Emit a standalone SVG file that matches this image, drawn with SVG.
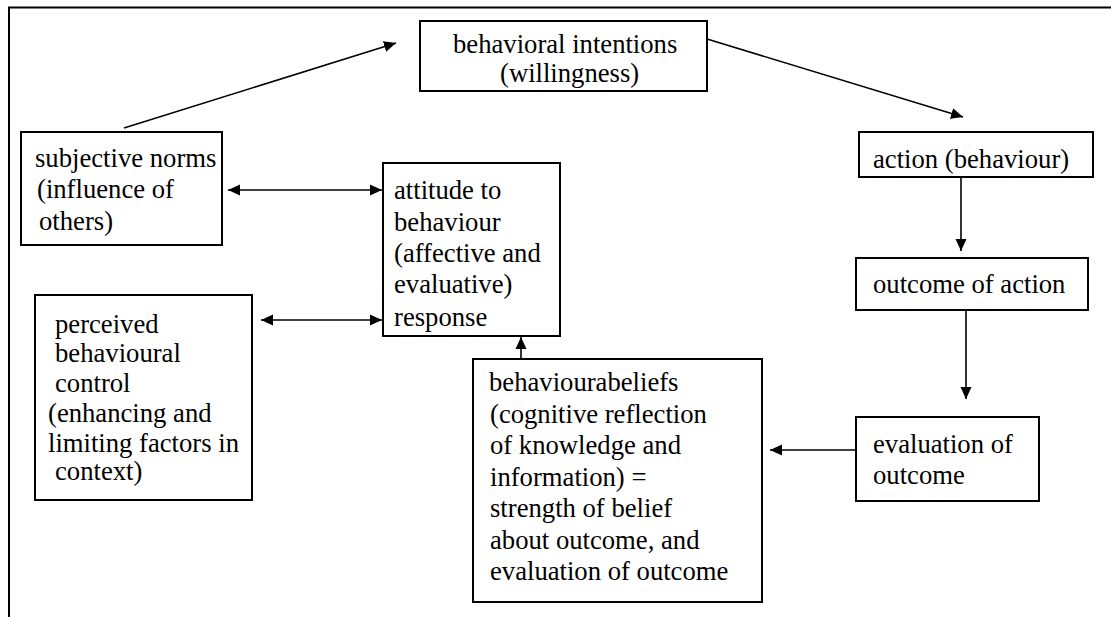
<svg xmlns="http://www.w3.org/2000/svg" width="1111" height="617" viewBox="0 0 1111 617">
  <style>
    .box { fill: #ffffff; stroke: #000000; stroke-width: 2; }
    .frame { fill: none; stroke: #000000; stroke-width: 2; }
    text { font-family: 'Liberation Serif', 'Times New Roman', Times, 'DejaVu Serif', serif; font-size: 26.67px; fill: #000000; }
    .conn { fill: none; stroke: #000000; stroke-width: 1.6; }
    .one { marker-end: url(#head); }
    .two { marker-start: url(#head); marker-end: url(#head); }
  </style>
  <defs>
    <marker id="head" markerUnits="userSpaceOnUse" markerWidth="14" markerHeight="14" viewBox="0 0 14 14" refX="12" refY="7" orient="auto-start-reverse">
      <path d="M0,1.5 L12,7 L0,12.5 Z" fill="#000000"/>
    </marker>
  </defs>

  <rect width="1111" height="617" fill="#ffffff"/>

  <!-- open page frame: top and left edges only -->
  <path class="frame" d="M9,617 L9,7.5 L1111,7.5"/>

  <g id="connectors">
    <line class="conn one" x1="124" y1="128" x2="396" y2="43"/>
    <line class="conn one" x1="707" y1="39" x2="963" y2="117"/>
    <line class="conn two" x1="228" y1="190" x2="382" y2="190"/>
    <line class="conn two" x1="261" y1="320" x2="382" y2="320"/>
    <line class="conn one" x1="961" y1="177" x2="961" y2="251"/>
    <line class="conn one" x1="966" y1="310" x2="966" y2="399"/>
    <line class="conn one" x1="856" y1="450" x2="770" y2="450"/>
    <line class="conn one" x1="521" y1="359" x2="521" y2="337"/>
  </g>

  <g id="intentions">
    <rect class="box" x="420" y="21" width="287" height="70"/>
    <text x="453" y="53">behavioral intentions</text>
    <text x="500" y="82">(willingness)</text>
  </g>

  <g id="subjective-norms">
    <rect class="box" x="21" y="132" width="201" height="113"/>
    <text x="35" y="167">subjective norms</text>
    <text x="37" y="198">(influence of</text>
    <text x="39" y="230">others)</text>
  </g>

  <g id="attitude">
    <rect class="box" x="383" y="163" width="177" height="173"/>
    <text x="394" y="199">attitude to</text>
    <text x="394" y="231">behaviour</text>
    <text x="394" y="262">(affective and</text>
    <text x="394" y="293">evaluative)</text>
    <text x="394" y="326">response</text>
  </g>

  <g id="perceived-control">
    <rect class="box" x="35" y="295" width="217" height="205"/>
    <text x="55" y="333">perceived</text>
    <text x="55" y="362">behavioural</text>
    <text x="55" y="392">control</text>
    <text x="48" y="422">(enhancing and</text>
    <text x="48" y="452">limiting factors in</text>
    <text x="55" y="480">context)</text>
  </g>

  <g id="beliefs">
    <rect class="box" x="473" y="359" width="289" height="243"/>
    <text x="489" y="391">behaviourabeliefs</text>
    <text x="490" y="422.5">(cognitive reflection</text>
    <text x="490" y="454">of knowledge and</text>
    <text x="490" y="485.5">information) =</text>
    <text x="490" y="517">strength of belief</text>
    <text x="490" y="548.5">about outcome, and</text>
    <text x="490" y="580">evaluation of outcome</text>
  </g>

  <g id="action">
    <rect class="box" x="859" y="132" width="234" height="45"/>
    <text x="873" y="168">action (behaviour)</text>
  </g>

  <g id="outcome">
    <rect class="box" x="856" y="258" width="232" height="52"/>
    <text x="873" y="293">outcome of action</text>
  </g>

  <g id="evaluation">
    <rect class="box" x="856" y="417" width="183" height="84"/>
    <text x="873" y="453">evaluation of</text>
    <text x="873" y="484">outcome</text>
  </g>
</svg>
